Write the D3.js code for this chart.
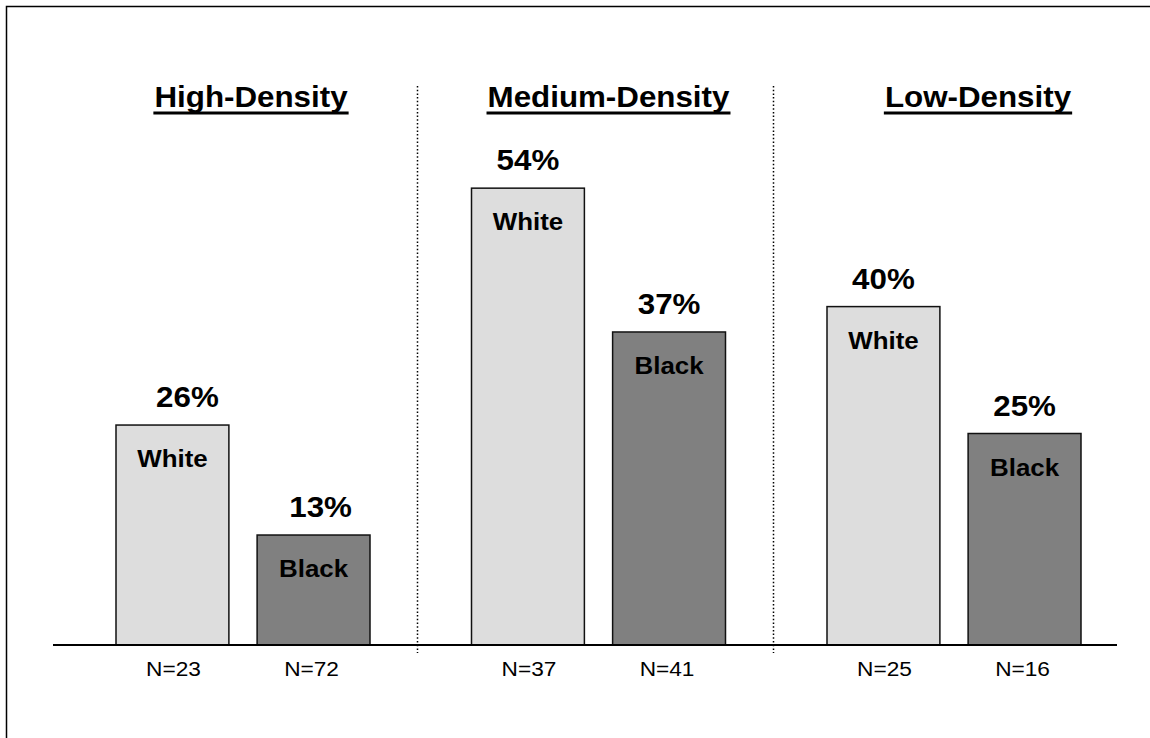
<!DOCTYPE html>
<html>
<head>
<meta charset="utf-8">
<script src="https://cdn.jsdelivr.net/npm/d3@7"></script>
<style>
  html, body { margin: 0; padding: 0; background: #fff; }
  svg { display: block; font-family: Arial, "Liberation Sans", sans-serif; }
</style>
</head>
<body>
<svg id="chart" width="1150" height="738"></svg>
<script>
// ---- data ----
const groups = ["High-Density", "Medium-Density", "Low-Density"];
const races = ["White", "Black"];
const whiteValues = [26, 54, 40];
const blackValues = [13, 37, 25];
const whiteN = [23, 37, 25];
const blackN = [72, 41, 16];

// ---- layout ----
const W = 1150, H = 738;
const baseY = 645;
const SX = 1.08; // horizontal text stretch seen in the original
const svg = d3.select("#chart");

// outer frame (runs off right/bottom edges)
svg.append("rect")
  .attr("x", 6.5).attr("y", 6.5)
  .attr("width", W + 20).attr("height", H + 20)
  .attr("fill", "none").attr("stroke", "#000").attr("stroke-width", 1.5);

const y = d3.scaleLinear().domain([0, 60]).range([baseY, baseY - 60 * 8.46]);
const gx = d3.scalePoint().domain(groups).range([243, 954]);
const bx = d3.scaleBand().domain(races).range([-127, 127]).paddingInner(0.2);

const rows = [];
groups.forEach((g, i) => {
  rows.push({ group: g, race: "White", value: whiteValues[i], n: whiteN[i], gi: i });
  rows.push({ group: g, race: "Black", value: blackValues[i], n: blackN[i], gi: i });
});

const fill = { White: "#dddddd", Black: "#808080" };
const cx = d => gx(d.group) + bx(d.race) + bx.bandwidth() / 2;
const place = (x, yy) => `translate(${x},${yy}) scale(${SX},1)`;

// dotted separators between groups
const sepX = [
  (gx(groups[0]) + bx("Black") + bx.bandwidth() + gx(groups[1]) + bx("White")) / 2 - 4,
  (gx(groups[1]) + bx("Black") + bx.bandwidth() + gx(groups[2]) + bx("White")) / 2 - 3
];
svg.selectAll("line.sep").data(sepX).enter().append("line")
  .attr("class", "sep")
  .attr("x1", d => Math.round(d) + 0.5).attr("x2", d => Math.round(d) + 0.5)
  .attr("y1", 86).attr("y2", 653)
  .attr("stroke", "#000").attr("stroke-width", 1.5)
  .attr("stroke-dasharray", "1.5,2.2");

// bars
svg.selectAll("rect.bar").data(rows).enter().append("rect")
  .attr("class", "bar")
  .attr("x", d => gx(d.group) + bx(d.race))
  .attr("y", d => y(d.value))
  .attr("width", bx.bandwidth())
  .attr("height", d => baseY - y(d.value))
  .attr("fill", d => fill[d.race])
  .attr("stroke", "#111").attr("stroke-width", 1.5);

// axis baseline
svg.append("line")
  .attr("x1", 53).attr("x2", 1117)
  .attr("y1", baseY).attr("y2", baseY)
  .attr("stroke", "#000").attr("stroke-width", 2);

// percent labels (high-density ones sit slightly right in the original)
const pctNudge = [[15, 7], [0, 0], [0, 0]];
svg.selectAll("text.pct").data(rows).enter().append("text")
  .attr("class", "pct")
  .attr("transform", d => place(cx(d) + pctNudge[d.gi][races.indexOf(d.race)], y(d.value) - 18))
  .attr("text-anchor", "middle")
  .attr("font-size", 29).attr("font-weight", "bold").attr("fill", "#000")
  .text(d => d.value + "%");

// race labels inside bars
svg.selectAll("text.race").data(rows).enter().append("text")
  .attr("class", "race")
  .attr("transform", d => place(cx(d), y(d.value) + 42))
  .attr("text-anchor", "middle")
  .attr("font-size", 24).attr("font-weight", "bold").attr("fill", "#000")
  .text(d => d.race);

// N labels
svg.selectAll("text.n").data(rows).enter().append("text")
  .attr("class", "n")
  .attr("transform", d => place(cx(d) + (d.race === "White" ? 1 : -2), 676))
  .attr("text-anchor", "middle")
  .attr("font-size", 21).attr("fill", "#000")
  .text(d => "N=" + d.n);

// group titles with underline
const titleNudge = [8, 10, 24];
const titles = svg.selectAll("g.title").data(groups).enter().append("g")
  .attr("class", "title")
  .attr("transform", (d, i) => place(gx(d) + titleNudge[i], 107));
titles.append("text")
  .attr("text-anchor", "middle")
  .attr("font-size", 29).attr("font-weight", "bold").attr("fill", "#000")
  .text(d => d);
titles.each(function() {
  const t = d3.select(this).select("text");
  const w = t.node().getComputedTextLength();
  d3.select(this).append("rect")
    .attr("x", -w / 2 - 1).attr("y", 4.5)
    .attr("width", w + 2).attr("height", 3)
    .attr("fill", "#000");
});
</script>
</body>
</html>
